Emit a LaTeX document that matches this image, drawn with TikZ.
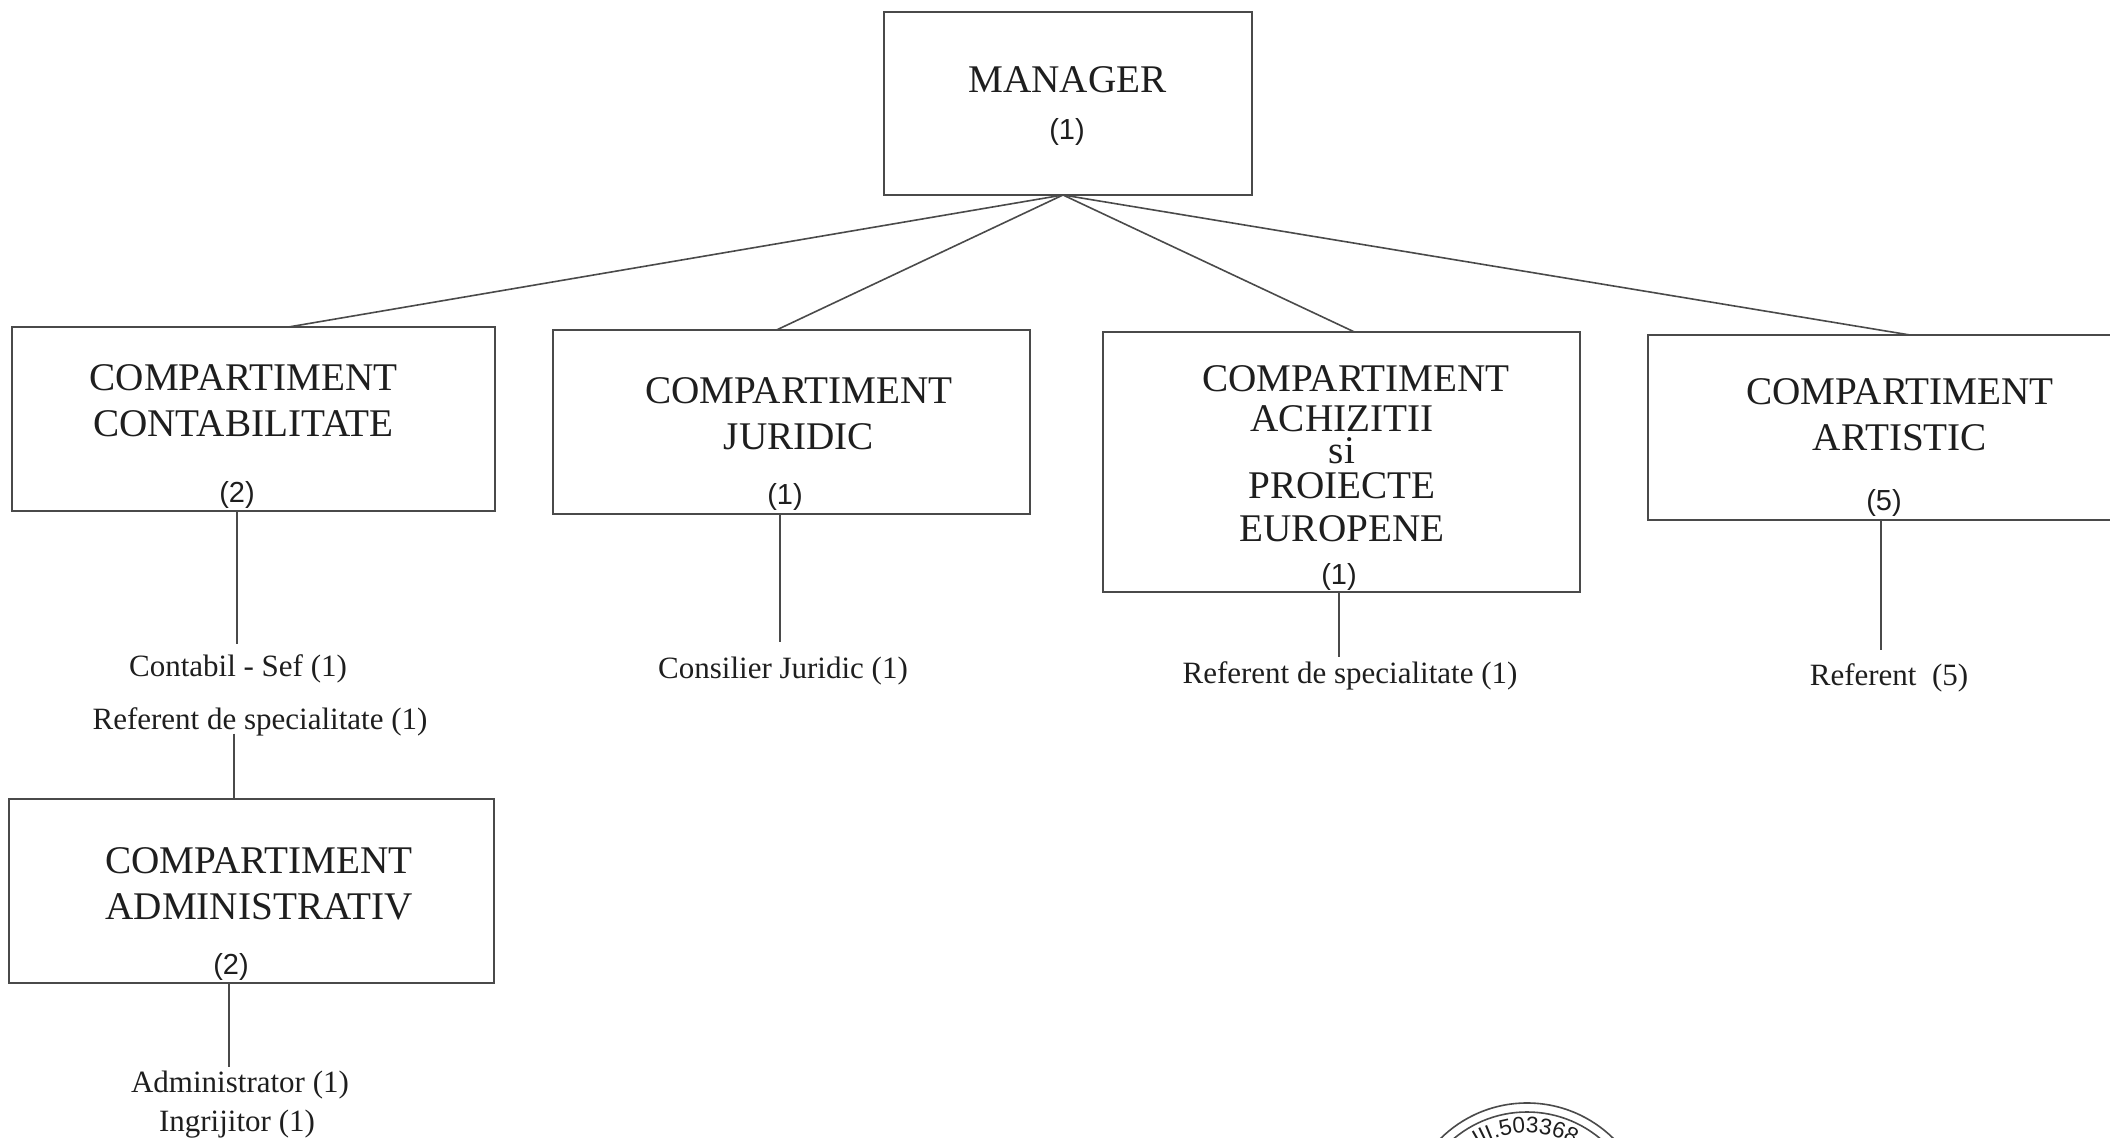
\documentclass[tikz,border=0pt]{standalone}
\usepackage{fontspec}
\setmainfont{Liberation Serif}
\newfontfamily\countfont{Liberation Sans}
\usetikzlibrary{decorations.text}

\definecolor{inkline}{HTML}{4A4A4A}
\definecolor{inktext}{HTML}{1E1E1E}

\tikzset{
    boxnode/.style={draw=inkline,line width=1pt,rectangle,inner sep=0pt,outer sep=0pt},
    titlenode/.style={text=inktext,align=center,inner sep=0pt,font=\fontsize{19.6}{23}\selectfont},
    countnode/.style={text=inktext,inner sep=0pt,font=\countfont\fontsize{14.5}{17}\selectfont},
    staffnode/.style={text=inktext,inner sep=3pt,font=\fontsize{15.5}{18}\selectfont},
    linkline/.style={draw=inkline,line width=0.8pt},
    stampline/.style={draw=inkline,line width=0.8pt}
}

\begin{document}
\begin{tikzpicture}[x=0.5pt,y=-0.5pt]
            \useasboundingbox (0,0) rectangle (2110,1138);

            \node[boxnode,minimum width=184pt,minimum height=91.5pt] (manager) at (1068,103.5) {};
            \node[boxnode,minimum width=241.5pt,minimum height=92pt] (contab) at (253.5,419) {};
            \node[boxnode,minimum width=238.5pt,minimum height=92pt] (juridic) at (791.5,422) {};
            \node[boxnode,minimum width=238.5pt,minimum height=130pt] (achizitii) at (1341.5,462) {};
            \node[boxnode,minimum width=246pt,minimum height=92.5pt] (artistic) at (1894,427.5) {};
            \node[boxnode,minimum width=242.5pt,minimum height=92pt] (admin) at (251.5,891) {};

            \node[titlenode] (managertitle) at (1067.5,80) {MANAGER};
            \node[countnode] (managercount) at (1067,132.5) {(1)};
            \node[titlenode] (contabtitle) at (243.5,401) {COMPARTIMENT\\CONTABILITATE};
            \node[countnode] (contabcount) at (237,494.5) {(2)};
            \node[titlenode] (juridictitle) at (799,414) {COMPARTIMENT\\JURIDIC};
            \node[countnode] (juridiccount) at (785,497) {(1)};
            \node[titlenode] (achizhead) at (1356,379) {COMPARTIMENT};
            \node[titlenode] (achiztitle) at (1342,474) {ACHIZITII\\[-7pt]si\\[-5.5pt]PROIECTE\\[-1.5pt]EUROPENE};
            \node[countnode] (achizcount) at (1339,577) {(1)};
            \node[titlenode] (artistictitle) at (1900,414.5) {COMPARTIMENT\\ARTISTIC};
            \node[countnode] (artisticcount) at (1884,503) {(5)};
            \node[titlenode] (admintitle) at (259,884) {COMPARTIMENT\\ADMINISTRATIV};
            \node[countnode] (admincount) at (231,967) {(2)};

            \node[staffnode] (contabil) at (238,669) {Contabil - Sef (1)};
            \node[staffnode] (contabref) at (260,722) {Referent de specialitate (1)};
            \node[staffnode] (consilier) at (783,671) {Consilier Juridic (1)};
            \node[staffnode] (achizref) at (1350,676) {Referent de specialitate (1)};
            \node[staffnode] (referent) at (1889,678) {Referent\ \ (5)};
            \node[staffnode] (administrator) at (240,1085) {Administrator (1)};
            \node[staffnode] (ingrijitor) at (237,1124) {Ingrijitor (1)};

            \draw[linkline] ([xshift=-2.5pt]manager.south) -- ([xshift=17.5pt]contab.north);
            \draw[linkline] ([xshift=-2.5pt]manager.south) -- ([xshift=-7.5pt]juridic.north);
            \draw[linkline] ([xshift=-2.5pt]manager.south) -- ([xshift=6.5pt]achizitii.north);
            \draw[linkline] ([xshift=-2.5pt]manager.south) -- ([xshift=8pt]artistic.north);

            \draw[linkline] ([xshift=-8.25pt]contab.south) -- ([xshift=-0.5pt,yshift=2pt]contabil.north);
            \draw[linkline] ([xshift=-13pt,yshift=4.5pt]contabref.south) -- ([xshift=-8.75pt]admin.north);
            \draw[linkline] ([xshift=-11.25pt]admin.south) -- ([xshift=-5.5pt,yshift=-1pt]administrator.north);
            \draw[linkline] ([xshift=-5.75pt]juridic.south) -- ([xshift=-1.5pt,yshift=4.5pt]consilier.north);
            \draw[linkline] ([xshift=-1.25pt]achizitii.south) -- ([xshift=-5.5pt,yshift=-1pt]achizref.north);
            \draw[linkline] ([xshift=-6.5pt]artistic.south) -- ([xshift=-4pt,yshift=3.5pt]referent.north);

            \draw[stampline] (1527,1226) circle (123);
            \draw[stampline] (1527,1226) circle (114);
            \path[decorate,decoration={text along path,
                text={|\countfont\fontsize{11.3}{13}\selectfont\color{inktext}|III.5033689},text align=center}]
                (1527,1226) ++(-117:93) arc (-117:-57:93);
        \end{tikzpicture}
\end{document}
